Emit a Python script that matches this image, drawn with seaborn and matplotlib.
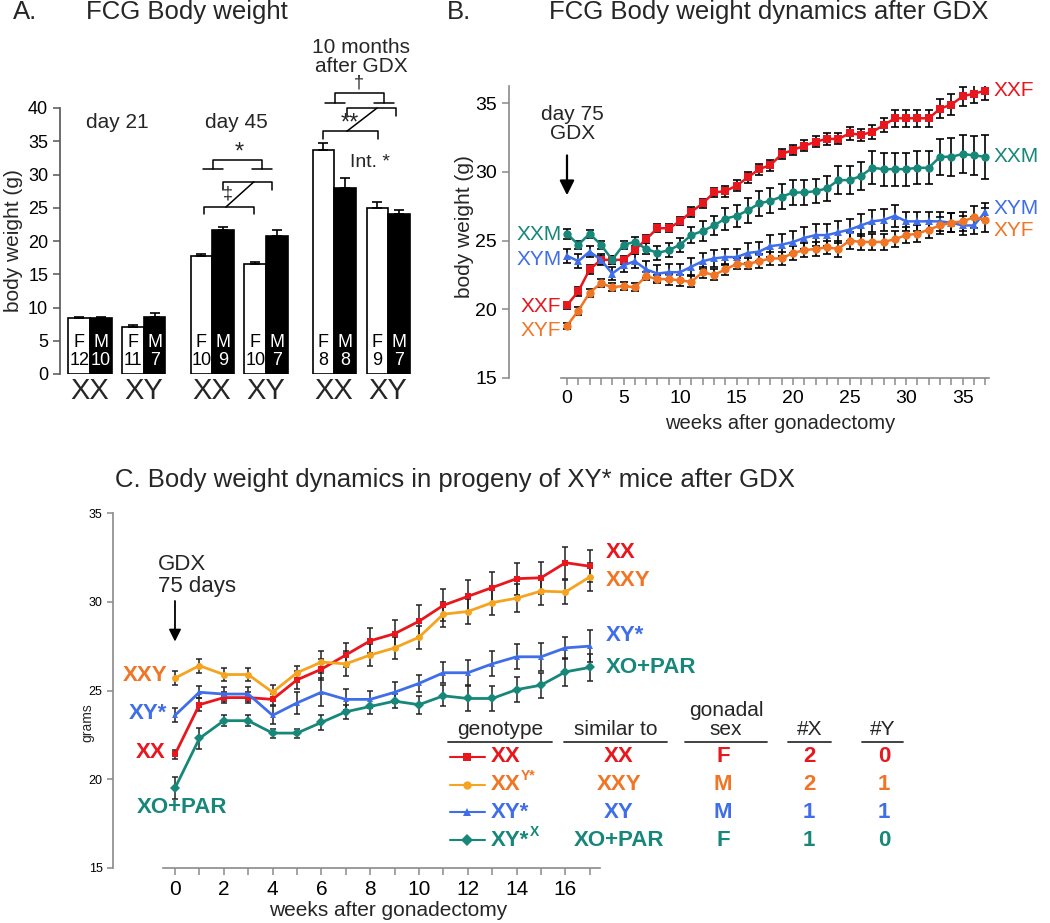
import numpy as np
import pandas as pd
import matplotlib
matplotlib.use('Agg')
import matplotlib.pyplot as plt
from matplotlib.lines import Line2D
from matplotlib.ticker import FixedLocator
import seaborn as sns

# ---------------- Panel A data ----------------
genotype_A = ['XX', 'XY', 'XX', 'XY', 'XX', 'XY']
female_mean = [8.4, 7.0, 17.8, 16.5, 33.7, 25.0]
female_sem = [0.1, 0.4, 0.3, 0.3, 1.0, 0.9]
male_mean = [8.4, 8.5, 21.6, 20.7, 27.9, 24.1]
male_sem = [0.1, 0.7, 0.5, 0.9, 1.5, 0.6]
female_n = [12, 11, 10, 10, 8, 9]
male_n = [10, 7, 9, 7, 8, 7]

# ---------------- Panel B data ----------------
weeks_B = list(range(0, 38))
XXF_B = [20.3, 21.3, 22.9, 23.6, 23.6, 23.6, 24.3, 25.1, 25.9, 25.9, 26.4, 27.1, 27.7, 28.5, 28.6, 29.0, 29.6, 30.2,
         30.5, 31.3, 31.6, 31.9, 32.2, 32.4, 32.4, 32.8, 32.7, 32.9, 33.4, 33.9, 33.9, 33.9, 33.9, 34.6, 34.9, 35.5,
         35.7, 35.9]
XXF_B_err = [0.25, 0.3, 0.35, 0.3, 0.3, 0.3, 0.3, 0.3, 0.3, 0.3, 0.3, 0.35, 0.35, 0.35, 0.4, 0.4, 0.4, 0.4, 0.4,
             0.35, 0.35, 0.4, 0.4, 0.45, 0.4, 0.5, 0.45, 0.5, 0.5, 0.6, 0.6, 0.6, 0.6, 0.7, 0.75, 0.7, 0.7, 0.7]
XXM_B = [25.5, 24.7, 25.5, 24.7, 23.6, 24.7, 24.9, 24.4, 24.1, 24.3, 24.7, 25.4, 25.7, 26.1, 26.6, 26.8, 27.2, 27.7,
         27.9, 28.2, 28.5, 28.5, 28.6, 28.8, 29.4, 29.4, 29.7, 30.3, 30.2, 30.2, 30.2, 30.3, 30.3, 31.1, 31.1, 31.3,
         31.2, 31.1]
XXM_B_err = [0.35, 0.3, 0.3, 0.3, 0.3, 0.3, 0.35, 0.4, 0.5, 0.5, 0.5, 0.6, 0.7, 0.7, 0.8, 0.8, 0.9, 0.9, 0.9, 0.9,
             0.9, 0.9, 0.9, 0.9, 1.0, 1.0, 1.0, 1.2, 1.2, 1.2, 1.2, 1.2, 1.2, 1.3, 1.4, 1.4, 1.4, 1.6]
XYM_B = [23.9, 23.5, 24.2, 23.6, 22.6, 23.2, 23.5, 22.9, 22.6, 22.7, 22.7, 23.1, 23.5, 23.7, 23.8, 23.8, 24.1, 24.2,
         24.6, 24.7, 24.9, 25.2, 25.4, 25.4, 25.6, 25.8, 26.1, 26.4, 26.5, 26.8, 26.4, 26.4, 26.4, 26.4, 26.3, 26.1,
         26.1, 27.1]
XYM_B_err = [0.5, 0.5, 0.4, 0.4, 0.5, 0.5, 0.5, 0.6, 0.6, 0.6, 0.6, 0.6, 0.6, 0.6, 0.6, 0.6, 0.7, 0.7, 0.8, 0.8,
             0.8, 0.8, 0.8, 0.8, 0.8, 0.8, 0.8, 0.8, 0.8, 0.8, 0.7, 0.7, 0.7, 0.7, 0.7, 0.7, 0.6, 0.6]
XYF_B = [18.8, 19.9, 21.2, 21.9, 21.6, 21.7, 21.6, 22.4, 22.2, 22.2, 22.1, 22.0, 22.7, 22.5, 22.9, 23.3, 23.3, 23.5,
         23.7, 23.7, 24.1, 24.3, 24.4, 24.5, 24.4, 25.0, 24.9, 24.9, 24.9, 25.1, 25.4, 25.5, 25.8, 26.1, 26.3, 26.4,
         26.7, 26.5]
XYF_B_err = [0.2, 0.3, 0.3, 0.3, 0.3, 0.3, 0.3, 0.3, 0.3, 0.4, 0.4, 0.4, 0.4, 0.4, 0.4, 0.4, 0.4, 0.5, 0.5, 0.5,
             0.5, 0.5, 0.5, 0.5, 0.6, 0.6, 0.6, 0.6, 0.6, 0.6, 0.6, 0.6, 0.6, 0.6, 0.7, 0.7, 0.8, 0.9]

# ---------------- Panel C data ----------------
weeks_C = list(range(0, 18))
XX_C = [21.4, 24.2, 24.6, 24.6, 24.5, 25.6, 26.2, 27.0, 27.8, 28.2, 28.9, 29.8, 30.3, 30.8, 31.3, 31.35, 32.2, 32.0]
XX_C_err = [0.25, 0.35, 0.3, 0.3, 0.3, 0.5, 0.6, 0.7, 0.7, 0.8, 0.9, 0.9, 0.9, 0.9, 0.9, 0.9, 0.9, 0.9]
XXY_C = [25.7, 26.4, 25.9, 25.9, 24.9, 26.0, 26.6, 26.5, 27.0, 27.4, 28.0, 29.3, 29.45, 29.95, 30.2, 30.6, 30.55, 31.4]
XXY_C_err = [0.4, 0.4, 0.35, 0.35, 0.4, 0.4, 0.6, 0.7, 0.6, 0.6, 0.65, 0.7, 0.7, 0.7, 0.8, 0.8, 0.7, 0.8]
XYs_C = [23.6, 24.9, 24.8, 24.8, 23.6, 24.3, 24.9, 24.5, 24.5, 24.9, 25.4, 26.0, 26.0, 26.5, 26.9, 26.9, 27.4, 27.5]
XYs_C_err = [0.4, 0.35, 0.4, 0.4, 0.5, 0.6, 0.8, 0.6, 0.5, 0.6, 0.5, 0.6, 0.7, 0.7, 0.7, 0.8, 0.6, 0.9]
XO_C = [19.5, 22.3, 23.3, 23.3, 22.6, 22.6, 23.2, 23.8, 24.1, 24.4, 24.2, 24.7, 24.55, 24.55, 25.05, 25.3, 26.05, 26.3]
XO_C_err = [0.6, 0.6, 0.3, 0.3, 0.25, 0.25, 0.4, 0.4, 0.4, 0.4, 0.5, 0.6, 0.7, 0.7, 0.7, 0.7, 0.8, 0.75]

# legend table of panel C
table_geno = ['XX', 'XX', 'XY*', 'XY*']
table_sup = ['', 'Y*', '', 'X']
similar_to = ['XX', 'XXY', 'XY', 'XO+PAR']
gonadal_sex = ['F', 'M', 'M', 'F']
n_X = [2, 2, 1, 1]
n_Y = [0, 1, 1, 0]

# colours
RED = '#e8161d'
TEAL = '#17877a'
BLUE = '#3f6ee8'
ORANGE = '#f07524'
GOLD = '#f4a41f'

sns.set_style('ticks')
plt.rcParams['font.family'] = ['Liberation Sans', 'DejaVu Sans']

W, H = 1050, 923
fig = plt.figure(figsize=(10.5, 9.23), dpi=100)


def fx(px):
    return px / W


def fy(py):
    return 1 - py / H


def style_axis(ax, color):
    for s in ax.spines.values():
        s.set_color(color)
        s.set_linewidth(1.2)
    ax.tick_params(colors=color, which='both', direction='out', length=5, width=1.1, labelcolor='black')


# ================= Panel A =================
axA = fig.add_axes([fx(60), fy(374), 360 / W, 266 / H])
pair_pos = [2.22 * t + 0.98 * g for t in range(3) for g in range(2)]
dfA = pd.DataFrame({'pos': pair_pos * 2,
                    'sex': ['F'] * 6 + ['M'] * 6,
                    'weight': female_mean + male_mean})
sns.barplot(data=dfA, x='pos', y='weight', hue='sex', hue_order=['F', 'M'], native_scale=True,
            palette={'F': 'white', 'M': 'black'}, edgecolor='black', linewidth=1.2,
            errorbar=None, width=0.8, legend=False, ax=axA)
sems = female_sem + male_sem
ns = female_n + male_n
sexes = ['F'] * 6 + ['M'] * 6
for p, s, n, sx in zip(axA.patches, sems, ns, sexes):
    xc = p.get_x() + p.get_width() / 2
    h = p.get_height()
    axA.errorbar(xc, h, yerr=[[0], [s]], fmt='none', ecolor='black', elinewidth=1.2, capsize=3.5, capthick=1.2)
    col = 'black' if sx == 'F' else 'white'
    axA.text(xc, 4.8, sx, ha='center', va='center', color=col, fontsize=13)
    axA.text(xc, 2.0, str(n), ha='center', va='center', color=col, fontsize=13)
for pos, g in zip(pair_pos, genotype_A):
    axA.text(pos, -2.6, g, ha='center', va='center', fontsize=21, clip_on=False)

axA.set_xlim(-0.545, 6.0)
axA.set_ylim(0, 40)
axA.set_yticks(range(0, 41, 5))
axA.tick_params(axis='y', labelsize=13)
axA.tick_params(axis='x', bottom=False, labelbottom=False)
axA.set_xlabel('')
axA.set_ylabel('body weight (g)', fontsize=15)
axA.yaxis.set_label_coords(-0.103, 0.5)
style_axis(axA, '#555555')
for s in ['top', 'right', 'bottom']:
    axA.spines[s].set_visible(False)


def bracket(ax, x1, x2, ytop, ybot, feet=0.0):
    ax.plot([x1, x1, x2, x2], [ybot, ytop, ytop, ybot], color='black', lw=1.1, clip_on=False)
    if feet:
        for xx in (x1, x2):
            ax.plot([xx - feet, xx + feet], [ybot, ybot], color='black', lw=1.1, clip_on=False)


# day 45 statistics
bracket(axA, 2.24, 3.13, 32.2, 30.8, feet=0.18)
bracket(axA, 2.07, 2.98, 25.1, 24.1)
bracket(axA, 2.42, 3.31, 28.9, 27.7)
axA.plot([2.47, 2.98], [25.1, 28.9], color='black', lw=1.1)
axA.text(2.71, 33.3, '*', ha='center', va='center', fontsize=17)
axA.text(2.50, 27.1, '‡', ha='center', va='center', fontsize=13)
# 10 months statistics
bracket(axA, 4.45, 5.35, 42.3, 40.8, feet=0.18)
bracket(axA, 4.67, 5.56, 40.0, 38.8)
bracket(axA, 4.24, 5.24, 36.5, 35.3)
axA.plot([4.67, 5.22], [36.5, 40.0], color='black', lw=1.1, clip_on=False)
axA.text(4.89, 43.7, '†', ha='center', va='center', fontsize=13, clip_on=False)
axA.text(4.73, 37.6, '**', ha='center', va='center', fontsize=17)
axA.text(5.09, 31.8, 'Int. *', ha='center', va='center', fontsize=14)

axA.text(0.49, 37.8, 'day 21', ha='center', va='center', fontsize=15)
axA.text(2.67, 37.8, 'day 45', ha='center', va='center', fontsize=15)
axA.text(4.93, 47.7, '10 months\nafter GDX', ha='center', va='center', fontsize=15, linespacing=1.0,
         clip_on=False)

fig.text(fx(13), fy(12), 'A.', fontsize=18.5, va='center', ha='left')
fig.text(fx(86), fy(12), 'FCG Body weight', fontsize=18.5, va='center', ha='left')

# ================= Panel B =================
axB = fig.add_axes([fx(509), fy(378), (1000 - 509) / W, (378 - 86) / H])
seriesB = {'XXF': (XXF_B, XXF_B_err), 'XXM': (XXM_B, XXM_B_err),
           'XYM': (XYM_B, XYM_B_err), 'XYF': (XYF_B, XYF_B_err)}
colB = {'XXF': RED, 'XXM': TEAL, 'XYM': BLUE, 'XYF': ORANGE}
mkB = {'XXF': 's', 'XXM': 'o', 'XYM': '^', 'XYF': 'o'}
dfB = pd.concat([pd.DataFrame({'week': weeks_B, 'weight': v, 'group': k}) for k, (v, e) in seriesB.items()])
for k, (v, e) in seriesB.items():
    axB.errorbar(weeks_B, v, yerr=e, fmt='none', ecolor='black', elinewidth=1.2, capsize=2.8, capthick=1.2,
                 zorder=1.5)
sns.lineplot(data=dfB, x='week', y='weight', hue='group', style='group', palette=colB, markers=mkB,
             dashes=False, markersize=6, markeredgewidth=0, linewidth=1.8, errorbar=None, legend=False,
             sort=False, ax=axB)
axB.set_xlim(-5.13, 38.3)
axB.set_ylim(15, 36.25)
axB.xaxis.set_major_locator(FixedLocator(list(range(0, 36, 5))))
axB.xaxis.set_minor_locator(FixedLocator(weeks_B))
axB.set_yticks(range(15, 36, 5))
axB.spines['bottom'].set_bounds(-0.5, 37.3)
sns.despine(ax=axB)
style_axis(axB, '#8a8a8a')
axB.tick_params(labelsize=14)
axB.set_xlabel('weeks after gonadectomy', fontsize=14.5)
axB.set_ylabel('body weight (g)', fontsize=15)
axB.xaxis.set_label_coords(0.552, -0.122)
axB.yaxis.set_label_coords(-0.071, 0.52)

labB_left = {'XXM': 25.45, 'XYM': 23.6, 'XXF': 20.2, 'XYF': 18.45}
labB_right = {'XXF': 35.9, 'XXM': 31.1, 'XYM': 27.3, 'XYF': 25.7}
for k, yv in labB_left.items():
    axB.text(-0.5, yv, k, ha='right', va='center', color=colB[k], fontsize=15)
for k, yv in labB_right.items():
    axB.text(37.7, yv, k, ha='left', va='center', color=colB[k], fontsize=15, clip_on=False)
axB.text(0.45, 33.5, 'day 75\nGDX', ha='center', va='center', fontsize=15, linespacing=1.0)
axB.annotate('', xy=(0, 28.1), xytext=(0, 31.4),
             arrowprops=dict(arrowstyle='-|>', color='black', lw=1.6, mutation_scale=22))

fig.text(fx(447), fy(12), 'B.', fontsize=18.5, va='center', ha='left')
fig.text(fx(549), fy(12), 'FCG Body weight dynamics after GDX', fontsize=18.5, va='center', ha='left')

# ================= Panel C =================
axC = fig.add_axes([fx(113), fy(868), (940 - 113) / W, (868 - 513) / H])
seriesC = {'XX': (XX_C, XX_C_err), 'XXY': (XXY_C, XXY_C_err),
           'XY*': (XYs_C, XYs_C_err), 'XO+PAR': (XO_C, XO_C_err)}
lineC = {'XX': RED, 'XXY': GOLD, 'XY*': BLUE, 'XO+PAR': TEAL}
textC = {'XX': RED, 'XXY': ORANGE, 'XY*': BLUE, 'XO+PAR': TEAL}
mkC = {'XX': 's', 'XXY': 'o', 'XY*': '^', 'XO+PAR': 'D'}
dfC = pd.concat([pd.DataFrame({'week': weeks_C, 'weight': v, 'group': k}) for k, (v, e) in seriesC.items()])
for k, (v, e) in seriesC.items():
    axC.errorbar(weeks_C, v, yerr=e, fmt='none', ecolor='#222222', elinewidth=1.1, capsize=2.5, capthick=1.1,
                 zorder=1.5)
sns.lineplot(data=dfC, x='week', y='weight', hue='group', style='group', palette=lineC, markers=mkC,
             dashes=False, markersize=5, markeredgewidth=0, linewidth=2.0, errorbar=None, legend=False,
             sort=False, ax=axC)
axC.set_xlim(-2.54, 31.35)
axC.set_ylim(15, 35)
axC.xaxis.set_major_locator(FixedLocator(list(range(0, 17, 2))))
axC.xaxis.set_minor_locator(FixedLocator(weeks_C))
axC.set_yticks(range(15, 36, 5))
axC.spines['bottom'].set_bounds(-0.5, 17.4)
sns.despine(ax=axC)
style_axis(axC, '#8a8a8a')
axC.tick_params(axis='x', labelsize=15)
axC.tick_params(axis='y', labelsize=9, length=4)
axC.set_xlabel('weeks after gonadectomy', fontsize=15)
axC.set_ylabel('grams', fontsize=10)
axC.xaxis.set_label_coords(0.333, -0.094)
axC.yaxis.set_label_coords(-0.022, 0.41)

labC_left = {'XXY': (-0.3, 25.85), 'XY*': (-0.3, 23.7), 'XX': (-0.4, 21.5)}
for k, (xv, yv) in labC_left.items():
    axC.text(xv, yv, k, ha='right', va='center', color=textC[k], fontsize=16, fontweight='bold')
axC.text(0.3, 18.4, 'XO+PAR', ha='center', va='center', color=TEAL, fontsize=16, fontweight='bold')
labC_right = {'XX': 32.8, 'XXY': 31.2, 'XY*': 28.1, 'XO+PAR': 26.3}
for k, yv in labC_right.items():
    axC.text(17.65, yv, k, ha='left', va='center', color=textC[k], fontsize=16, fontweight='bold')
axC.text(-0.7, 31.5, 'GDX\n75 days', ha='left', va='center', fontsize=16, linespacing=1.05)
axC.annotate('', xy=(0, 27.6), xytext=(0, 30.2),
             arrowprops=dict(arrowstyle='-|>', color='black', lw=1.3, mutation_scale=18))

fig.text(fx(115), fy(480), 'C. Body weight dynamics in progeny of XY* mice after GDX', fontsize=18.5,
         va='center', ha='left')

# legend table
headers = [('genotype', 448, 552), ('similar to', 564, 667), ('gonadal\nsex', 685, 767),
           ('#X', 788, 831), ('#Y', 862, 903)]
for txt, a, b in headers:
    fig.text(fx((a + b) / 2), fy(739), txt, ha='center', va='bottom', fontsize=15, linespacing=1.0,
             multialignment='center')
    fig.add_artist(Line2D([fx(a), fx(b)], [fy(742), fy(742)], color='#333333', lw=1.3))

row_keys = ['XX', 'XXY', 'XY*', 'XO+PAR']
for i, key in enumerate(row_keys):
    yp = 757 + 27.7 * i
    tc = textC[key]
    fig.add_artist(Line2D([fx(450), fx(485)], [fy(yp), fy(yp)], color=lineC[key], lw=1.5))
    fig.add_artist(Line2D([fx(467)], [fy(yp)], color=lineC[key], marker=mkC[key], ms=6, mew=0))
    t = fig.text(fx(491), fy(yp), table_geno[i], ha='left', va='center', color=tc, fontsize=16,
                 fontweight='bold')
    if table_sup[i]:
        axC.annotate(table_sup[i], xy=(1.0, 0.9), xycoords=t, ha='left', va='center', color=tc,
                     fontsize=10, fontweight='bold', annotation_clip=False)
    fig.text(fx(619), fy(yp), similar_to[i], ha='center', va='center', color=tc, fontsize=16,
             fontweight='bold')
    fig.text(fx(723), fy(yp), gonadal_sex[i], ha='center', va='center', color=tc, fontsize=16,
             fontweight='bold')
    fig.text(fx(809), fy(yp), str(n_X[i]), ha='center', va='center', color=tc, fontsize=16,
             fontweight='bold')
    fig.text(fx(884), fy(yp), str(n_Y[i]), ha='center', va='center', color=tc, fontsize=16,
             fontweight='bold')

fig.savefig('out.png', dpi=100)
